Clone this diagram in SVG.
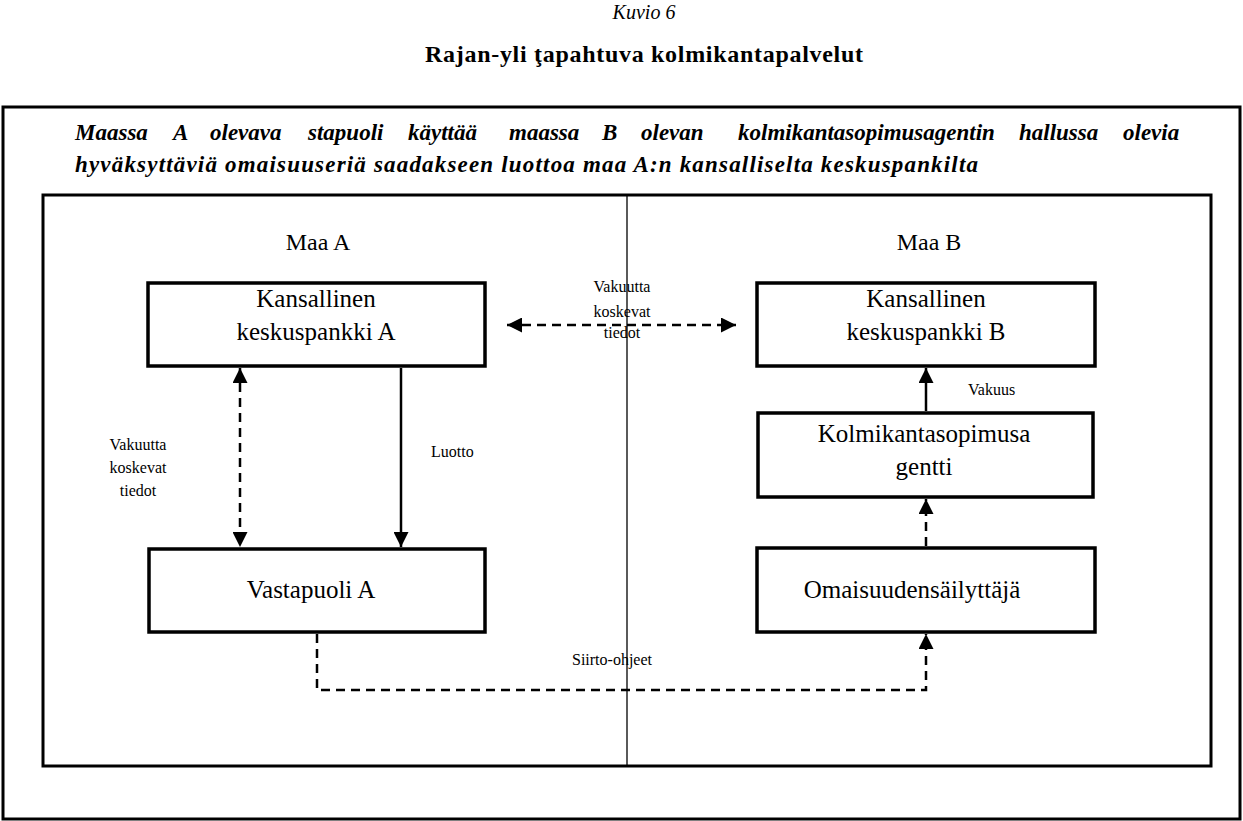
<svg xmlns="http://www.w3.org/2000/svg" width="1243" height="821" viewBox="0 0 1243 821">
<style>
text{font-family:"Liberation Serif","Times New Roman",serif;fill:#000}
.box{fill:#fff;stroke:#000;stroke-width:3.5}
.frame{fill:none;stroke:#000;stroke-width:3}
.ln{fill:none;stroke:#000;stroke-width:2.5}
.dash{stroke-dasharray:9 6}
.lbl{font-size:16px;text-anchor:middle}
.node{font-size:25px;text-anchor:middle}
</style>
<defs>
<marker id="ah" viewBox="0 0 10 10" refX="10" refY="5" markerWidth="6" markerHeight="6" orient="auto-start-reverse" markerUnits="strokeWidth">
<path d="M0,0 L10,5 L0,10 Z" fill="#000"/>
</marker>
</defs>
<rect width="1243" height="821" fill="#fff"/>
<text x="644" y="19" font-size="20" font-style="italic" text-anchor="middle">Kuvio 6</text>
<text x="644" y="62" font-size="24" font-weight="bold" text-anchor="middle" textLength="438">Rajan-yli ţapahtuva kolmikantapalvelut</text>
<rect class="frame" x="3" y="107" width="1237" height="712"/>
<text font-size="23" font-weight="bold" font-style="italic" y="140"><tspan x="75">Maassa</tspan><tspan x="173">A</tspan><tspan x="210">olevava</tspan><tspan x="308">stapuoli</tspan><tspan x="408">käyttää</tspan><tspan x="509">maassa</tspan><tspan x="602">B</tspan><tspan x="641">olevan</tspan><tspan x="738">kolmikantasopimusagentin</tspan><tspan x="1019">hallussa</tspan><tspan x="1123">olevia</tspan></text>
<text font-size="23" font-weight="bold" font-style="italic" x="75" y="172" textLength="903">hyväksyttäviä omaisuuseriä saadakseen luottoa maa A:n kansalliselta keskuspankilta</text>
<rect class="frame" x="43" y="195" width="1168" height="571"/>
<line x1="627" y1="195" x2="627" y2="766" stroke="#000" stroke-width="1.3"/>
<text x="318" y="250" font-size="24" text-anchor="middle">Maa A</text>
<text x="929" y="250" font-size="24" text-anchor="middle">Maa B</text>
<g id="connectors">
<line class="ln dash" x1="240" y1="368" x2="240" y2="547" marker-start="url(#ah)" marker-end="url(#ah)"/>
<line class="ln" x1="401" y1="368" x2="401" y2="547" marker-end="url(#ah)"/>
<line class="ln dash" x1="507" y1="325" x2="736" y2="325" marker-start="url(#ah)" marker-end="url(#ah)"/>
<line class="ln" x1="926" y1="411" x2="926" y2="368" marker-end="url(#ah)"/>
<line class="ln dash" x1="926" y1="546" x2="926" y2="499" marker-end="url(#ah)"/>
<polyline class="ln dash" points="317,634 317,690 926,690 926,634" marker-end="url(#ah)"/>
<text class="lbl" x="138" y="450">Vakuutta</text>
<text class="lbl" x="138" y="473">koskevat</text>
<text class="lbl" x="138" y="496">tiedot</text>
<text class="lbl" x="622" y="292">Vakuutta</text>
<text class="lbl" x="622" y="317">koskevat</text>
<text class="lbl" x="622" y="338">tiedot</text>
<text x="431" y="457" font-size="16">Luotto</text>
<text x="968" y="395" font-size="16">Vakuus</text>
<text x="572" y="665" font-size="16">Siirto-ohjeet</text>
</g>
<g id="kansallinen-a">
<rect class="box" x="148" y="283" width="337" height="83"/>
<text class="node" x="316" y="307">Kansallinen</text>
<text class="node" x="316" y="340">keskuspankki A</text>
</g>
<g id="kansallinen-b">
<rect class="box" x="757" y="283" width="338" height="83"/>
<text class="node" x="926" y="307">Kansallinen</text>
<text class="node" x="926" y="340">keskuspankki B</text>
</g>
<g id="kolmikanta">
<rect class="box" x="758" y="413" width="335" height="84"/>
<text class="node" x="924" y="442" font-size="28">Kolmikantasopimusa</text>
<text class="node" x="924" y="475" font-size="28">gentti</text>
</g>
<g id="vastapuoli-a">
<rect class="box" x="149" y="549" width="336" height="83"/>
<text class="node" x="311" y="598" font-size="28">Vastapuoli A</text>
</g>
<g id="omaisuudensailyttaja">
<rect class="box" x="757" y="548" width="338" height="84"/>
<text class="node" x="912" y="598" font-size="27">Omaisuudensäilyttäjä</text>
</g>
</svg>
